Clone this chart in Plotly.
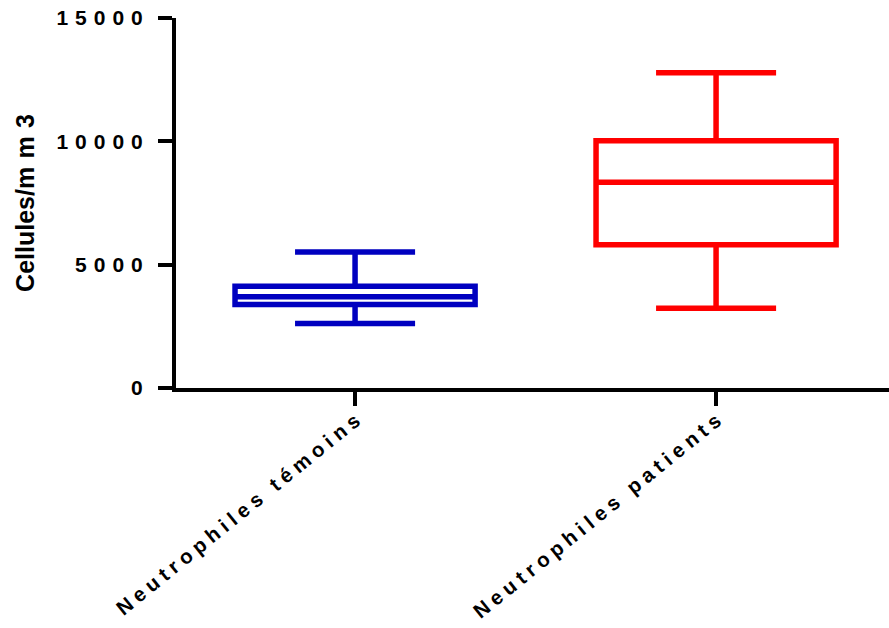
import plotly.graph_objects as go

# ---- data ----
categories = ["Neutrophiles témoins", "Neutrophiles patients"]
lower_fence = [2610, 3230]
q1 = [3390, 5810]
median = [3700, 8340]
q3 = [4120, 10020]
upper_fence = [5510, 12780]
box_colors = ["#0000C0", "#FF0000"]
y_tick_values = [0, 5000, 10000, 15000]

FONT = "Liberation Sans, Arial, sans-serif"


def spaced(text, letter_gap="\u2005", word_gap="\u2002\u2005"):
    return word_gap.join(letter_gap.join(list(w)) for w in text.split(" "))


y_tick_text = ["\u2004".join(str(v)) for v in y_tick_values]
x_tick_text = [spaced(c) for c in categories]

fig = go.Figure()
for i, cat in enumerate(categories):
    fig.add_trace(go.Box(
        x=[cat],
        q1=[q1[i]], median=[median[i]], q3=[q3[i]],
        lowerfence=[lower_fence[i]], upperfence=[upper_fence[i]],
        width=0.665,
        whiskerwidth=0.5,
        line=dict(color=box_colors[i], width=5.5),
        fillcolor="white",
        boxpoints=False,
        showlegend=False,
        hoverinfo="skip",
    ))

fig.update_layout(
    width=889, height=628,
    margin=dict(l=176, r=0, t=18, b=240, autoexpand=False),
    paper_bgcolor="white", plot_bgcolor="white",
    font=dict(family=FONT, color="black"),
    boxmode="overlay",
    xaxis=dict(
        type="category",
        range=[-0.496, 1.479],
        tickmode="array", tickvals=categories, ticktext=x_tick_text,
        tickangle=-39,
        ticks="outside", ticklen=14, tickwidth=4, tickcolor="black",
        ticklabelstandoff=-5,
        ticklabeloverflow="allow",
        showline=True, linecolor="black", linewidth=4,
        showgrid=False, zeroline=False,
        tickfont=dict(family=FONT, size=20.5, weight="bold", color="black"),
        automargin=False,
    ),
    yaxis=dict(
        range=[0, 15000],
        tickmode="array", tickvals=y_tick_values, ticktext=y_tick_text,
        ticks="outside", ticklen=14, tickwidth=4, tickcolor="black",
        ticklabelstandoff=11,
        ticklabeloverflow="allow",
        showline=True, linecolor="black", linewidth=4,
        showgrid=False, zeroline=False,
        tickfont=dict(family=FONT, size=21, weight="bold", color="black"),
        title=dict(text="Cellules/m\u2004m\u20043", standoff=16,
                   font=dict(family=FONT, size=25, weight="bold", color="black")),
        automargin=False,
    ),
)

fig.write_html("out.html", post_script="document.body.style.margin='0';",
               config={"displayModeBar": False})
